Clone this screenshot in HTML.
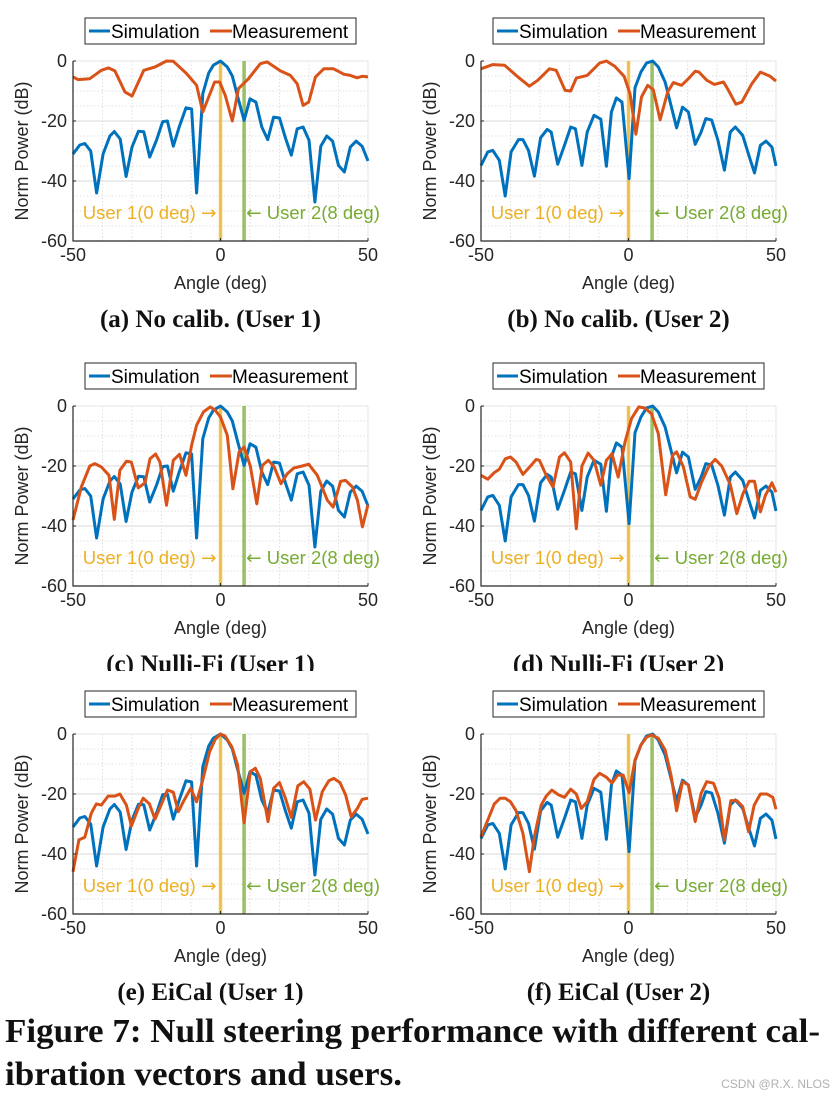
<!DOCTYPE html>
<html><head><meta charset="utf-8"><style>
html,body{margin:0;padding:0;background:#fff;}
svg{display:block;font-family:"Liberation Sans",sans-serif;}
.arr{font-family:"DejaVu Sans",sans-serif;}
</style></head><body>
<svg id="fig" width="837" height="1097" viewBox="0 0 837 1097" xmlns="http://www.w3.org/2000/svg"></svg>
<script>
// ---- data ----
const sim1Angles=[-50,-47.7,-46,-44,-42,-39.8,-37.5,-36,-34,-32,-30,-27.8,-26,-24,-21.7,-19.6,-18,-16,-14,-11.7,-9.8,-8.1,-6,-4,-2.4,0,2.3,4,5.7,8,10,12,14,16,18,20,22,24,26,28,30,32,34,36,38,40,42,44,46,48,50];
const sim1Values=[-31,-28,-27.5,-30,-44,-31,-25,-23.5,-26,-38.5,-28.7,-23.4,-23.6,-32,-26.4,-20.2,-20,-28.4,-22,-15.6,-16,-44,-10.9,-4,-1.4,0,-2,-5,-11.4,-19.8,-12.6,-13.7,-22,-26.2,-18.7,-19,-25.6,-31.4,-22.6,-22,-26.4,-47,-28.4,-25,-26.7,-34.8,-37,-28.7,-26.7,-28.4,-33.3];
const sim2Angles=[-50,-47.7,-46,-43.8,-41.8,-39.8,-37.3,-35.8,-33.9,-31.9,-29.8,-27.6,-26.2,-24,-21.7,-19.6,-18,-15.8,-14,-11.7,-9.4,-7.5,-5.8,-4.1,-2.2,0.2,2.2,4.2,6.1,8.2,10.1,12.4,14.4,16.3,18.3,20.3,22.6,24.6,26.2,28.2,30.3,32.5,34.5,36.2,38.7,40.9,42.7,44.7,46.6,48.6,50];
const sim2Values=[-34.8,-30.3,-29.8,-33.1,-45,-30.3,-26.2,-26.2,-29.8,-38.4,-25.6,-22.8,-23.7,-34.4,-28.1,-22,-22.6,-34.8,-23.7,-18.1,-19.4,-35.1,-17,-12.3,-13.7,-39.2,-8.9,-3.7,-0.7,0,-2,-7,-14.8,-22.3,-15.4,-17,-27.8,-23.7,-19.2,-19.7,-26.4,-36.4,-23.7,-22,-24.8,-31.8,-37.3,-28.1,-26.7,-28.7,-35];
const measAAngles=[-50,-48.3,-44.3,-40.4,-38,-35.8,-32.4,-30,-26,-22.2,-18.3,-16,-11.5,-8.1,-6,-2,-0.3,1.6,4,6.1,9.5,13.5,15.8,20.3,23.7,26,28,29.9,32.2,35,38.3,41.8,44,46.3,48,50];
const measAValues=[-5.3,-6.2,-5.9,-3.1,-2.3,-3.3,-10.3,-11.7,-3.1,-2,0,-0.1,-4.2,-8.1,-17,-7,-7,-11.4,-20,-9.2,-5.9,-0.9,-0.3,-3.3,-4.8,-7.6,-14.8,-13.7,-5.3,-2.6,-2.6,-4.4,-4.8,-5.6,-5.1,-5.3];
const measBAngles=[-50,-46,-42,-37.5,-33.6,-30.7,-26.8,-24.5,-21.5,-19.6,-17.7,-14,-9.8,-7.5,-4.6,-1.5,0.5,2.5,4.4,6.5,8.4,10.7,13.3,15.2,18,20.3,22.6,23.9,26.5,29.1,32.2,33.9,36.4,38.4,41.8,44.7,48,50];
const measBValues=[-2.6,-1.2,-1.4,-5.3,-8.4,-6.4,-2.6,-3.1,-9.8,-10,-5.7,-4.8,-0.7,0,-1.8,-5.1,-10.9,-24.4,-12,-8.1,-9.6,-19.6,-10.3,-7.2,-8.1,-5.9,-3.4,-3.7,-6.4,-7.8,-7,-9.8,-14.4,-13.7,-7.6,-3.7,-5.1,-6.7];
const measCAngles=[-50,-47.2,-44.3,-42.6,-40.4,-37.8,-36,-34.1,-31.9,-30.2,-27.9,-25.6,-23.9,-22,-20.5,-18.3,-16,-13.9,-11.7,-9.8,-8.1,-5.8,-3.5,-1.8,0,2.3,4.2,6.3,8,10.1,12.3,14.2,16.2,18.2,20.5,22.6,24.8,27.7,29.9,32.8,36.2,38.2,40.7,42.4,44.7,46.4,48.1,50];
const measCValues=[-38,-27,-20,-19.2,-20.3,-23.1,-37.8,-21.4,-18.4,-18.7,-27.3,-25.6,-17.6,-16,-18.7,-33.1,-18.1,-16.1,-23.1,-13.1,-6.4,-2,-0.3,-1.4,-3.7,-9.8,-27.6,-15.3,-13.7,-20,-32.6,-19.8,-18.1,-20.3,-25.9,-22.6,-20.7,-20,-19.4,-23.1,-31.4,-33.7,-25.1,-24.8,-27,-31.4,-40.3,-32.9];
const measDAngles=[-50,-47.7,-45.5,-43.8,-41.8,-40,-38.1,-35.8,-33,-31.3,-30.2,-27.9,-25.6,-23.4,-21.7,-19.6,-17.7,-15.8,-13.7,-11.7,-9.4,-7.5,-5.6,-3.5,-1.2,1,3.5,5.6,7.8,10.1,12.6,14.9,16.3,18.6,20.9,22.6,24.8,27.3,29.4,31.6,34.5,36.7,38.8,40.9,42.7,44.7,46.4,48.6,50];
const measDValues=[-23.1,-24.4,-22.2,-21.1,-17.6,-17,-18.7,-22.8,-19.8,-17.8,-18.1,-23.1,-27,-17,-15.6,-18.7,-40.9,-20,-15.7,-18.1,-26.4,-18.1,-15.9,-23.7,-12,-4.2,-0.3,-0.7,-2.6,-9.2,-29.6,-16.4,-15.3,-20.3,-30.3,-31.1,-25.3,-20,-17.8,-20,-26.2,-35.9,-29.2,-25.1,-25.1,-35.3,-29.8,-25.6,-28.7];
const measEAngles=[-50,-48,-46,-43.8,-42.1,-40.4,-38.1,-35.8,-34.1,-31.9,-30.2,-27.9,-26.2,-24.1,-22.2,-19.9,-18,-16,-14.3,-12.4,-10.1,-8.1,-6,-3.7,-1.8,0,1.6,3.9,5.8,8,10.1,11.8,13.5,16.1,18,20,22,24,26.2,28.2,30.3,32.2,34.5,36.7,38.4,40.5,42.4,44.3,46.4,48,50];
const measEValues=[-45.9,-35.3,-34.4,-26.4,-23.3,-23.7,-20.7,-20.7,-20,-23.7,-30.7,-24.8,-21.4,-23.3,-28.4,-23.1,-18.7,-19.4,-25.9,-22.2,-18.1,-22.6,-15.3,-5.9,-1.8,0,-0.7,-4.4,-10.3,-29.6,-12.6,-11.4,-14.8,-29.2,-18.1,-16.2,-21.4,-27.8,-17.3,-15.9,-18.4,-28.7,-19.2,-15.6,-14.8,-16.2,-20.3,-27.6,-24.8,-21.8,-21.4];
const measFAngles=[-50,-47.7,-45.5,-43.5,-41.8,-40,-38.1,-35.8,-33.6,-31.9,-29.6,-27.9,-26,-23.7,-21.7,-19.6,-17.7,-16,-14,-11.7,-9.8,-7.5,-5.6,-3.7,-1.8,0.2,2.2,4.2,6.1,7.8,10.1,12.4,14.4,16.3,18.3,20.3,22.6,24.6,26.5,28.8,30.7,32.5,34.7,36.7,38.7,40.7,42.6,44.7,46.9,48.9,50];
const measFValues=[-34.2,-28.7,-23.3,-21.4,-21.4,-22.6,-25.6,-33.1,-45.9,-34.2,-23.7,-20.7,-18.7,-20.3,-21.1,-18.4,-20,-24.8,-22.6,-15.1,-13.1,-14.4,-16.4,-13.7,-13.7,-19.6,-8.7,-3.7,-1.1,-0.3,-1.4,-5.3,-13.7,-25.6,-15.9,-17,-29.2,-19.8,-15.9,-16.4,-21.4,-35.3,-22.2,-22.2,-24.2,-32.6,-23.7,-20,-20,-21.1,-25.1];
const xTicks=[-50,0,50];
const yTicks=[0,-20,-40,-60];
const panelCaptions=["(a) No calib. (User 1)","(b) No calib. (User 2)","(c) Nulli-Fi (User 1)","(d) Nulli-Fi (User 2)","(e) EiCal (User 1)","(f) EiCal (User 2)"];
const user1Angle=0, user2Angle=8;

const NS="http://www.w3.org/2000/svg";
const svg=document.getElementById('fig');
function mk(tag,attrs,parent,text){const e=document.createElementNS(NS,tag);for(const k in attrs)e.setAttribute(k,attrs[k]);if(text!==undefined)e.textContent=text;(parent||svg).appendChild(e);return e;}
function span(parent,text,cls){const t=document.createElementNS(NS,'tspan');if(cls)t.setAttribute('class',cls);t.textContent=text;parent.appendChild(t);return t;}

const panels=[
 {ox:0,oy:0,sa:sim1Angles,sv:sim1Values,ma:measAAngles,mv:measAValues},
 {ox:408,oy:0,sa:sim2Angles,sv:sim2Values,ma:measBAngles,mv:measBValues},
 {ox:0,oy:345,sa:sim1Angles,sv:sim1Values,ma:measCAngles,mv:measCValues},
 {ox:408,oy:345,sa:sim2Angles,sv:sim2Values,ma:measDAngles,mv:measDValues},
 {ox:0,oy:673,sa:sim1Angles,sv:sim1Values,ma:measEAngles,mv:measEValues},
 {ox:408,oy:673,sa:sim2Angles,sv:sim2Values,ma:measFAngles,mv:measFValues}
];
const letters=['a','b','c','d','e','f'];
const legends=[];

panels.forEach((p,i)=>{
  const L=73+p.ox,R=368+p.ox,T=61+p.oy,B=241+p.oy;
  const xs=a=>L+(a+50)/100*(R-L);
  const ys=v=>T+(-v)/60*(B-T);
  const g=mk('g',{});
  
  
  for(let a=-40;a<50;a+=10){ if(a!==0) mk('line',{x1:xs(a),x2:xs(a),y1:T,y2:B,stroke:'#d8d8d8','stroke-width':0.8,'stroke-dasharray':'1.5 2'},g); }
  for(let v=-5;v>-60;v-=5){ if(v%20!==0) mk('line',{x1:L,x2:R,y1:ys(v),y2:ys(v),stroke:'#d8d8d8','stroke-width':0.8,'stroke-dasharray':'1.5 2'},g); }
  [-20,-40].forEach(v=>mk('line',{x1:L,x2:R,y1:ys(v),y2:ys(v),stroke:'#e0e0e0','stroke-width':1.2},g));
  mk('line',{x1:xs(0),x2:xs(0),y1:T,y2:B,stroke:'#e0e0e0','stroke-width':1.2},g);
  mk('line',{x1:L,x2:R,y1:T,y2:T,stroke:'#e4e4e4','stroke-width':1},g);
  mk('line',{x1:R,x2:R,y1:T,y2:B,stroke:'#e4e4e4','stroke-width':1},g);
  const u1=mk('line',{x1:xs(user1Angle),x2:xs(user1Angle),y1:T,y2:B,stroke:'#EDB120','stroke-opacity':0.75,'stroke-width':3.5},g);
  
  
  const u2=mk('line',{x1:xs(user2Angle),x2:xs(user2Angle),y1:T,y2:B,stroke:'#77AC30','stroke-opacity':0.75,'stroke-width':3.5},g);
  
  
  const t1=mk('text',{x:xs(user1Angle)-4,y:T+158,'text-anchor':'end','font-size':18.5,fill:'#EDB120'},g);
  span(t1,'User 1(0 deg) ');span(t1,'\u2192','arr');
  
  
  const t2=mk('text',{x:xs(user2Angle)+2,y:T+158,'font-size':18.5,fill:'#77AC30'},g);
  span(t2,'\u2190','arr');span(t2,' User 2(8 deg)');
  
  
  const path=(A,V)=>A.map((a,k)=>(k?'L':'M')+xs(a).toFixed(1)+' '+ys(V[k]).toFixed(1)).join(' ');
  const s=mk('path',{d:path(p.sa,p.sv),fill:'none',stroke:'#0072BD','stroke-width':3,'stroke-linejoin':'round'},g);
  
  
  const m=mk('path',{d:path(p.ma,p.mv),fill:'none',stroke:'#D95319','stroke-width':3,'stroke-linejoin':'round'},g);
  
  
  mk('line',{x1:L,x2:L,y1:T,y2:B+0.5,stroke:'#262626','stroke-width':1.2},g);
  mk('line',{x1:L,x2:R,y1:B,y2:B,stroke:'#262626','stroke-width':1.2},g);
  xTicks.forEach(a=>{mk('line',{x1:xs(a),x2:xs(a),y1:B,y2:B-3,stroke:'#262626'},g);
    const t=mk('text',{x:xs(a),y:B+20,'text-anchor':'middle','font-size':18,fill:'#262626'},g,String(a));
    
    });
  yTicks.forEach(v=>{mk('line',{x1:L,x2:L+3,y1:ys(v),y2:ys(v),stroke:'#262626'},g);
    const t=mk('text',{x:L-6,y:ys(v)+6,'text-anchor':'end','font-size':18,fill:'#262626'},g,String(v));
    
    });
  const xl=mk('text',{x:(L+R)/2,y:B+48,'text-anchor':'middle','font-size':18,fill:'#262626'},g,'Angle (deg)');
  
  
  const yl=mk('text',{x:0,y:0,'text-anchor':'middle','font-size':18,fill:'#262626',transform:`translate(${L-45},${(T+B)/2}) rotate(-90)`},g,'Norm Power (dB)');
  
  
  const lg=mk('g',{},g);
  
  
  legends.push(lg);
  const lx=85+p.ox, ly=18+p.oy;
  mk('rect',{x:lx,y:ly,width:271,height:26,fill:'#fff',stroke:'#262626','stroke-width':1},lg);
  mk('line',{x1:lx+4,x2:lx+25,y1:ly+13,y2:ly+13,stroke:'#0072BD','stroke-width':3},lg);
  const le1=mk('text',{x:lx+26,y:ly+20,'font-size':19,fill:'#000'},lg,'Simulation');
  
  
  mk('line',{x1:lx+125,x2:lx+147,y1:ly+13,y2:ly+13,stroke:'#D95319','stroke-width':3},lg);
  const le2=mk('text',{x:lx+147,y:ly+20,'font-size':19,fill:'#000'},lg,'Measurement');
  
  
  const cap=mk('text',{x:(L+R)/2-10,y:B+86,'text-anchor':'middle','font-size':25,'font-weight':'bold','font-family':'"Liberation Serif",serif',fill:'#111'},svg,panelCaptions[i]);
  
  
});
mk('rect',{x:0,y:671,width:837,height:14,fill:'#fff'});
legends.forEach((lg,k)=>{if(k>=4)svg.appendChild(lg);});

const f1=mk('text',{x:5,y:1042,'font-size':34,'font-weight':'bold','font-family':'"Liberation Serif",serif',fill:'#111',textLength:815,lengthAdjust:'spacingAndGlyphs'},svg,'Figure 7: Null steering performance with different cal-');


const f2=mk('text',{x:5,y:1085,'font-size':34,'font-weight':'bold','font-family':'"Liberation Serif",serif',fill:'#111',textLength:397,lengthAdjust:'spacingAndGlyphs'},svg,'ibration vectors and users.');


const wm=mk('text',{x:830,y:1088,'text-anchor':'end','font-size':12,fill:'#b0b0b0'},svg,'CSDN @R.X. NLOS');


</script>
</body></html>
